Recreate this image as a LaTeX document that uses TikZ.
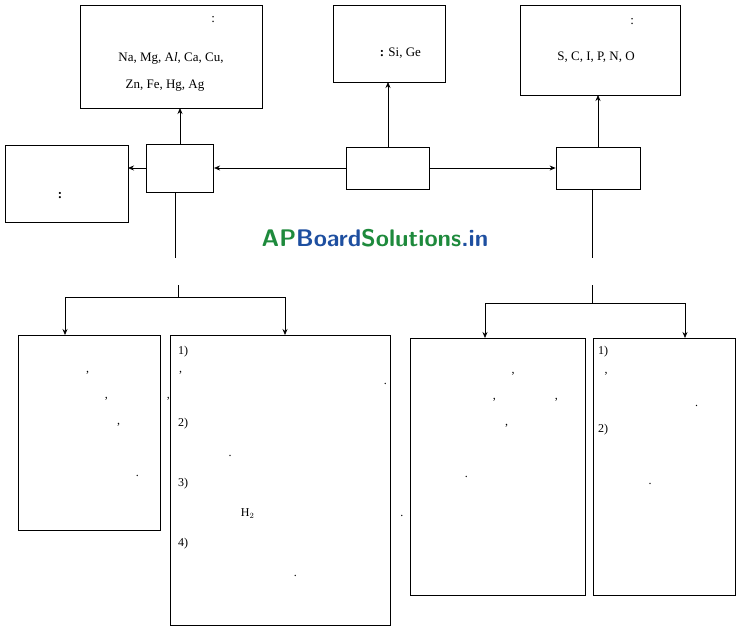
\documentclass[tikz,border=0pt]{standalone}
\usepackage{fontspec}
\setmainfont{Liberation Serif}
\usetikzlibrary{arrows.meta}
\begin{document}
\begin{tikzpicture}[x=1pt,y=-1pt,
  box/.style={draw,line width=0.8pt},
  txt/.style={font=\fontsize{13}{26}\selectfont,align=left,anchor=north west,inner sep=0pt},
  ar/.style={-{Stealth[length=6pt,width=5pt]},line width=0.7pt},
  ln/.style={line width=0.7pt}]
\useasboundingbox (0,0) rectangle (746,637);
% top boxes
\draw[box] (80,5) rectangle (262,108); \coordinate (tl) at (180,108);
\node[txt,anchor=north] at (171,16) {ఉదాహరణలు :};
\node[txt,anchor=north] at (171,52) {Na, Mg, A\textit{l}, Ca, Cu,};
\node[txt,anchor=north] at (165,80) {Zn, Fe, Hg, Ag};
\draw[box] (333,5) rectangle (445,82); \coordinate (tm) at (388,82);
\node[txt] at (346,18) {అర్ధ లోహాలు};
\node[txt] at (346,48) {\textbf{ఉదా :} Si, Ge};
\draw[box] (520,5) rectangle (680,95); \coordinate (tr) at (598,95);
\node[txt,anchor=north] at (590,18) {ఉదాహరణలు :};
\node[txt,anchor=north] at (596,52) {S, C, I, P, N, O};
% middle row
\node[box,minimum width=60pt,minimum height=48pt,font=\fontsize{13}{15}\selectfont] (loha) at (180,168) {లోహాలు};
\node[box,minimum width=83pt,minimum height=42pt,font=\fontsize{13}{15}\selectfont] (mula) at (388,168) {మూలకాలు};
\node[box,minimum width=84pt,minimum height=42pt,font=\fontsize{13}{15}\selectfont] (aloha) at (598,168) {అలోహాలు};
\draw[box] (5,145) rectangle (128,222); \coordinate (mis) at (128,168);
\node[txt] at (14,158) {మిశ్రమ లోహాలు};
\node[txt] at (24,192) {\textbf{ఉదా :} స్టీలు};
\draw[ar] (loha) -- (tl);
\draw[ar] (mula) -- (tm);
\draw[ar] (aloha) -- (tr);
\draw[ar] (mula) -- (loha);
\draw[ar] (mula) -- (aloha);
\draw[ar] (loha.west) -- (mis);
% watermark
\node[font=\sffamily\bfseries\fontsize{24}{26}\selectfont] at (375,238) {\textcolor[HTML]{1E8A3C}{AP}\textcolor[HTML]{1E4FA0}{Board}\textcolor[HTML]{1E8A3C}{Solutions}\textcolor[HTML]{1E4FA0}{.in}};
% properties left
\node[font=\fontsize{13}{15}\selectfont] (dl) at (180,272) {ధర్మాలు};
\node[font=\fontsize{13}{15}\selectfont] (dr) at (592,272) {ధర్మాలు};
\draw[ln] (175,192) -- (175,258);
\draw[ln] (592,189) -- (592,258);
\draw[ln] (178,285) -- (178,297);
\draw[ln] (65,297) -- (285,297);
\draw[box] (18,335) rectangle (160,530); \coordinate (A) at (65,335);
\draw[box] (170,335) rectangle (390,625); \coordinate (B) at (285,335);
\draw[ar] (65,297) -- (A);
\draw[ar] (285,297) -- (B);
\node[txt,font=\fontsize{12}{26}\selectfont] at (30,346) {\textbf{భౌతిక ధర్మాలు}\\ద్యుతి, ధ్వని గుణం,\\స్తరణీయత, తాంతవత,\\ఉష్ణ వాహకత, విద్యుత్\\వాహకత ధర్మాలను\\కలిగి ఉండేవి.};
\node[txt,font=\fontsize{12}{30}\selectfont] at (178,346) {1) గాలితో చర్య జరిపి\\\phantom{1) }లోహ ఆక్సైడ్‌లు ఏర్పడును.\\[12pt]2) లోహ ఆక్సైడ్‌లు క్షార స్వభావం\\\phantom{2) }గలవి.\\3) లోహాలు ఆమ్లాలతో చర్య\\\phantom{3) }జరిపి H$_2$ వాయువును ఇస్తాయి.\\4) లోహాలు స్థానభ్రంశ చర్యలో\\\phantom{4) }పాల్గొంటాయి.};
% properties right
\draw[ln] (592,285) -- (592,303);
\draw[ln] (485,303) -- (685,303);
\draw[box] (410,338) rectangle (585,595); \coordinate (C) at (485,338);
\draw[box] (593,338) rectangle (735,595); \coordinate (D) at (685,338);
\draw[ar] (485,303) -- (C);
\draw[ar] (685,303) -- (D);
\node[txt,anchor=north,font=\fontsize{12}{26}\selectfont] at (497,346) {\textbf{భౌతిక ధర్మాలు}};
\node[txt,font=\fontsize{12}{26}\selectfont] at (418,372) {ద్యుతిగుణం, ధ్వని గుణం,\\స్తరణీయత, తాంతవత,\\ఉష్ణ వాహకత, విద్యుత్\\వాహకత ధర్మాలను కలిగి\\ఉండవు.};
\node[txt,font=\fontsize{12}{26}\selectfont] at (598,346) {1) గాలితో చర్య జరిపి\\\phantom{1) }అలోహ ఆక్సైడ్‌లను\\\phantom{1) }ఏర్పరచును.\\2) అలోహ ఆక్సైడ్‌లు\\\phantom{2) }ఆమ్ల స్వభావం\\\phantom{2) }గలవి.};
\end{tikzpicture}
\end{document}
